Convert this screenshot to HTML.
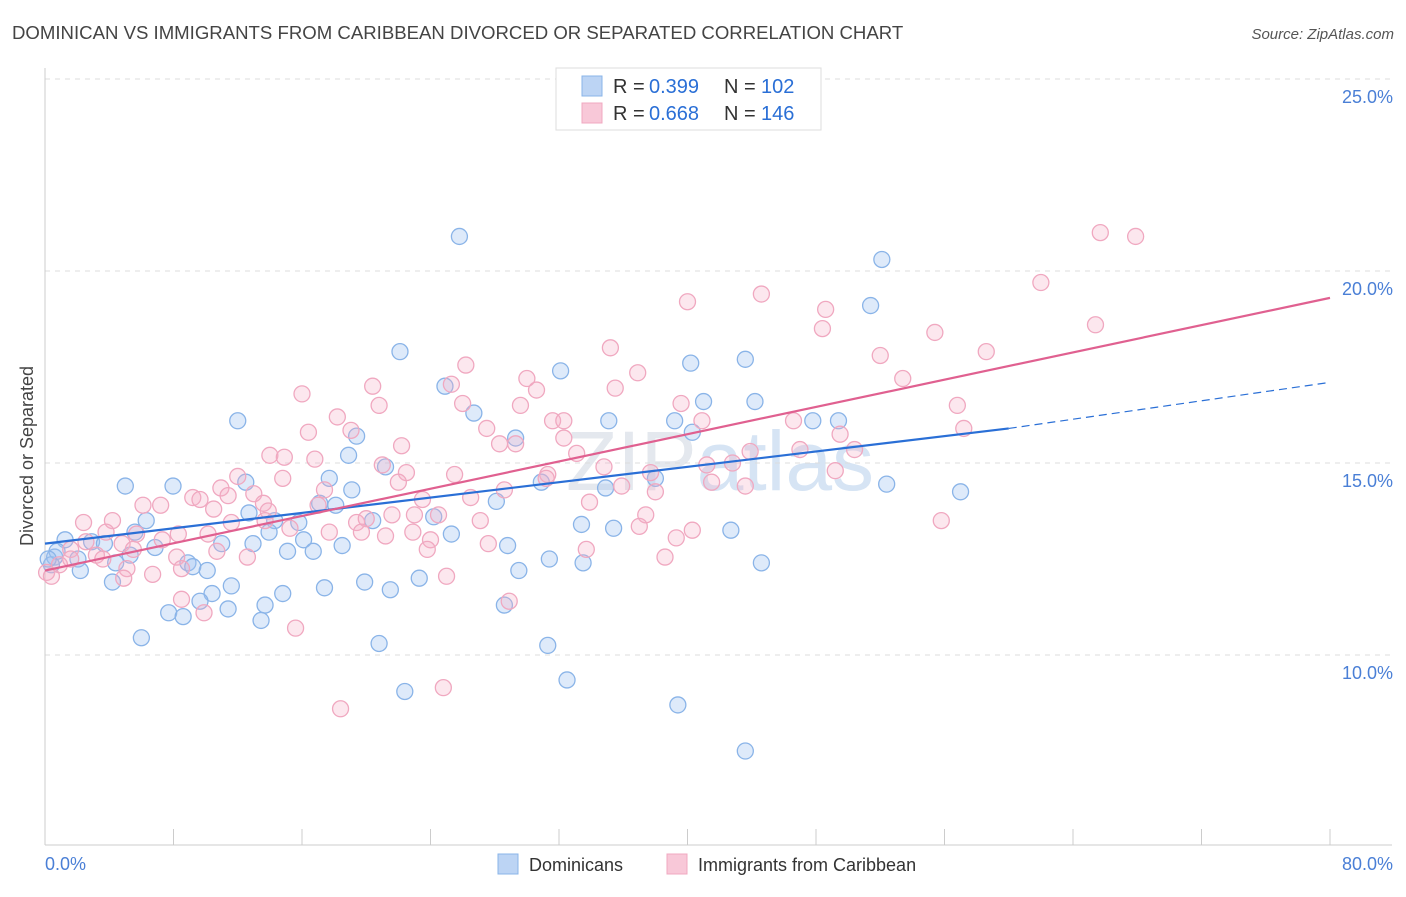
<!DOCTYPE html>
<html><head><meta charset="utf-8"><style>
body{margin:0;background:#fff;font-family:"Liberation Sans",sans-serif;}
svg text{font-family:"Liberation Sans",sans-serif;}
</style></head><body>
<svg id="chart" width="1406" height="892" viewBox="0 0 1406 892" xmlns="http://www.w3.org/2000/svg">
<text x="12" y="39" font-size="18.6" fill="#444">DOMINICAN VS IMMIGRANTS FROM CARIBBEAN DIVORCED OR SEPARATED CORRELATION CHART</text>
<text x="1394" y="39" font-size="15" fill="#555" font-style="italic" text-anchor="end">Source: ZipAtlas.com</text>
<text x="720" y="490" font-size="84" fill="#e4e8ee" text-anchor="middle" font-family="Liberation Serif">ZIP<tspan fill="#d6e4f4" font-family="Liberation Sans">atlas</tspan></text>
<g id="grid"></g>
<g id="axes"></g>
<g id="pts"></g>
<g id="lines"></g>
<text transform="translate(33,456) rotate(-90)" font-size="18" fill="#444" text-anchor="middle">Divorced or Separated</text>
<g>
<rect x="556" y="68" width="265" height="62" fill="#fff" stroke="#ddd"/>
<rect x="582" y="76" width="20" height="20" fill="#bcd4f4" stroke="#8ab4e8"/>
<rect x="582" y="103" width="20" height="20" fill="#f8c8d8" stroke="#f0a8c0"/>
<text x="613" y="93" font-size="20" fill="#333">R =</text>
<text x="649" y="93" font-size="20" fill="#2a6fd6">0.399</text>
<text x="724" y="93" font-size="20" fill="#333">N =</text>
<text x="761" y="93" font-size="20" fill="#2a6fd6">102</text>
<text x="613" y="120" font-size="20" fill="#333">R =</text>
<text x="649" y="120" font-size="20" fill="#2a6fd6">0.668</text>
<text x="724" y="120" font-size="20" fill="#333">N =</text>
<text x="761" y="120" font-size="20" fill="#2a6fd6">146</text>
</g>
<g>
<rect x="498" y="854" width="20" height="20" fill="#bcd4f4" stroke="#8ab4e8"/>
<text x="529" y="871" font-size="18" fill="#333">Dominicans</text>
<rect x="667" y="854" width="20" height="20" fill="#f8c8d8" stroke="#f0a8c0"/>
<text x="698" y="871" font-size="18" fill="#333">Immigrants from Caribbean</text>
</g>
</svg>
<script>
const yTicks=[10,15,20,25];
const yTickLabels=["10.0%","15.0%","20.0%","25.0%"];
const xTickLabels=["0.0%","80.0%"];
const blueX=[25.8,52.1,51.4,22.1,32.1,40.2,43.6,24.9,26.7,41,44.2,12,35.1,39.2,47.8,49.4,19.4,29.3,40.3,18.9,21.2,17.7,30.9,38,5,7.97,12.5,19.1,34.9,52.4,57,17.1,18.1,28.1,6.3,12.7,14.3,15.8,20.4,24.2,33.4,35.4,42.7,5.6,13.95,25.3,1.25,2.9,3.7,6.85,11,12.95,16.1,18.5,28.8,15.1,16.7,5.3,2.05,0.6,0.4,2.2,4.4,8.9,9.2,10.1,31.4,33.5,44.6,29.5,4.2,11.6,17.4,19.9,21.5,23.3,10.4,9.65,14.8,13.7,28.6,7.7,8.6,11.4,13.45,6,20.8,31.3,32.5,22.4,39.4,43.6,0.75,0.2];
const blueY=[20.9,20.3,19.1,17.9,17.4,17.6,17.7,17,16.3,16.6,16.6,16.1,16.1,16.1,16.1,16.1,15.7,15.65,15.8,15.2,14.9,14.6,14.5,14.6,14.4,14.4,14.5,14.3,14.35,14.45,14.25,13.95,13.9,14,13.5,13.7,13.5,13.45,13.5,13.6,13.4,13.3,13.25,13.2,13.2,13.15,13,12.95,12.9,12.8,12.9,12.9,13,12.85,12.85,12.7,12.7,12.6,12.5,12.55,12.35,12.2,12.4,12.4,12.3,12.2,12.5,12.4,12.4,12.2,11.9,11.8,11.75,11.9,11.7,12,11.6,11.4,11.6,11.3,11.3,11.1,11,11.2,10.9,10.45,10.3,10.25,9.35,9.05,8.7,7.5,12.7,12.5];
const pinkX=[65.7,67.9,62,40,44.6,48.6,65.4,48.4,55.4,52,58.6,35.2,26.2,36.9,53.4,30,20.4,25.3,35.5,16,30.6,20.8,26,29.6,39.6,56.8,18.2,31.6,32.3,40.9,46.6,19.05,16.4,22.2,27.5,32.3,28.3,29.3,49.5,57.2,14,14.9,33.1,43.9,47,50.4,16.8,22.5,21,34.8,41.2,42.8,12,25.5,31.3,37.7,49.2,14.8,22,31.2,41.5,43.6,17.4,35.9,10.95,13,9.2,28.6,38,26.5,11.4,9.65,23.5,6.1,7.2,13.6,17,33.9,10.5,13.9,21.6,23,24.5,37.4,55.8,2.4,4.2,11.6,13.7,19.4,27.1,20,15.25,17.7,37,40.3,3.8,5.7,8.3,10.15,19.7,22.9,21.2,24,39.3,2.55,4.8,7.3,27.6,23.8,1.6,3.2,5.5,10.7,33.7,1.6,3.6,8.2,12.6,38.6,0.9,0.1,5.1,6.7,8.5,0.4,4.9,25,8.5,28.9,9.9,15.6,24.8,18.4];
const pinkY=[21,20.9,19.7,19.2,19.4,19,18.6,18.5,18.4,17.8,17.9,18,17.55,17.35,17.2,17.2,17,17.05,16.95,16.8,16.9,16.5,16.55,16.5,16.55,16.5,16.2,16.1,16.1,16.1,16.1,15.85,15.8,15.45,15.9,15.65,15.5,15.5,15.75,15.9,15.2,15.15,15.25,15.3,15.35,15.35,15.1,14.75,14.95,14.9,14.95,15,14.65,14.7,14.7,14.75,14.8,14.6,14.5,14.6,14.5,14.4,14.3,14.4,14.35,14.2,14.1,14.3,14.25,14.1,14.15,14.05,14.05,13.9,13.9,13.95,13.9,13.98,13.8,13.75,13.65,13.65,13.65,13.65,13.5,13.45,13.5,13.45,13.5,13.45,13.5,13.55,13.3,13.2,13.35,13.25,13.2,13.15,13.15,13.15,13.2,13.2,13.1,13,13.05,12.95,12.9,13,12.9,12.75,12.75,12.6,12.75,12.7,12.75,12.5,12.5,12.55,12.55,12.55,12.35,12.15,12.25,12.1,12.25,12.05,12,12.05,11.45,11.4,11.1,10.7,9.15,8.6];
const blueTrend=[[0,12.9],[60,15.9],[80,17.1]];
const pinkTrend=[[0,12.2],[80,19.3]];
const NS="http://www.w3.org/2000/svg";
const X0=45,X1=1330,Y25=79,PX=38.4;
function xs(v){return X0+(X1-X0)*v/80;}
function ys(v){return Y25+(25-v)*PX;}
function mk(tag,attrs,parent){const e=document.createElementNS(NS,tag);for(const k in attrs)e.setAttribute(k,attrs[k]);parent.appendChild(e);return e;}
const grid=document.getElementById('grid'),axes=document.getElementById('axes'),pts=document.getElementById('pts'),lines=document.getElementById('lines');
yTicks.forEach((t,i)=>{
 const l=mk('line',{x1:45,x2:1392,y1:ys(t),y2:ys(t),stroke:'#dcdcdc','stroke-dasharray':'5,5'},grid);
 
 
 const tx=mk('text',{x:1393,y:ys(t)+24,'font-size':18,fill:'#4a7fd6','text-anchor':'end'},axes);
 tx.textContent=yTickLabels[i];
 
 
});
const ax=mk('line',{x1:45,x2:1392,y1:845,y2:845,stroke:'#ccc'},axes);


const ay=mk('line',{x1:45,x2:45,y1:68,y2:845,stroke:'#ccc'},axes);


for(let v=8;v<=80;v+=8){
 const tk=mk('line',{x1:xs(v),x2:xs(v),y1:829,y2:845,stroke:'#ccc'},axes);
 
 
}
[[0,'start',45],[80,'end',1393]].forEach((d,i)=>{
 const t=mk('text',{x:d[2],y:870,'font-size':18,fill:'#4a7fd6','text-anchor':d[1]},axes);
 t.textContent=xTickLabels[i];
 
 
});
function dots(X,Y,fill,stroke,name){
 X.forEach((x,i)=>{
  const c=mk('circle',{cx:xs(x),cy:ys(Y[i]),r:8,fill:fill,stroke:stroke,'stroke-width':1.3},pts);
  
  
 });
}
dots(blueX,blueY,'rgba(160,196,240,0.35)','#8ab4e8','dominican-point');
dots(pinkX,pinkY,'rgba(245,175,200,0.3)','#f0a8c0','caribbean-point');
const b1=mk('line',{x1:xs(blueTrend[0][0]),y1:ys(blueTrend[0][1]),x2:xs(blueTrend[1][0]),y2:ys(blueTrend[1][1]),stroke:'#2a6fd6','stroke-width':2.2},lines);


const b2=mk('line',{x1:xs(blueTrend[1][0]),y1:ys(blueTrend[1][1]),x2:xs(blueTrend[2][0]),y2:ys(blueTrend[2][1]),stroke:'#2a6fd6','stroke-width':1.2,'stroke-dasharray':'8,5'},lines);


const p1=mk('line',{x1:xs(pinkTrend[0][0]),y1:ys(pinkTrend[0][1]),x2:xs(pinkTrend[1][0]),y2:ys(pinkTrend[1][1]),stroke:'#e06090','stroke-width':2.2},lines);


</script>
</body></html>
